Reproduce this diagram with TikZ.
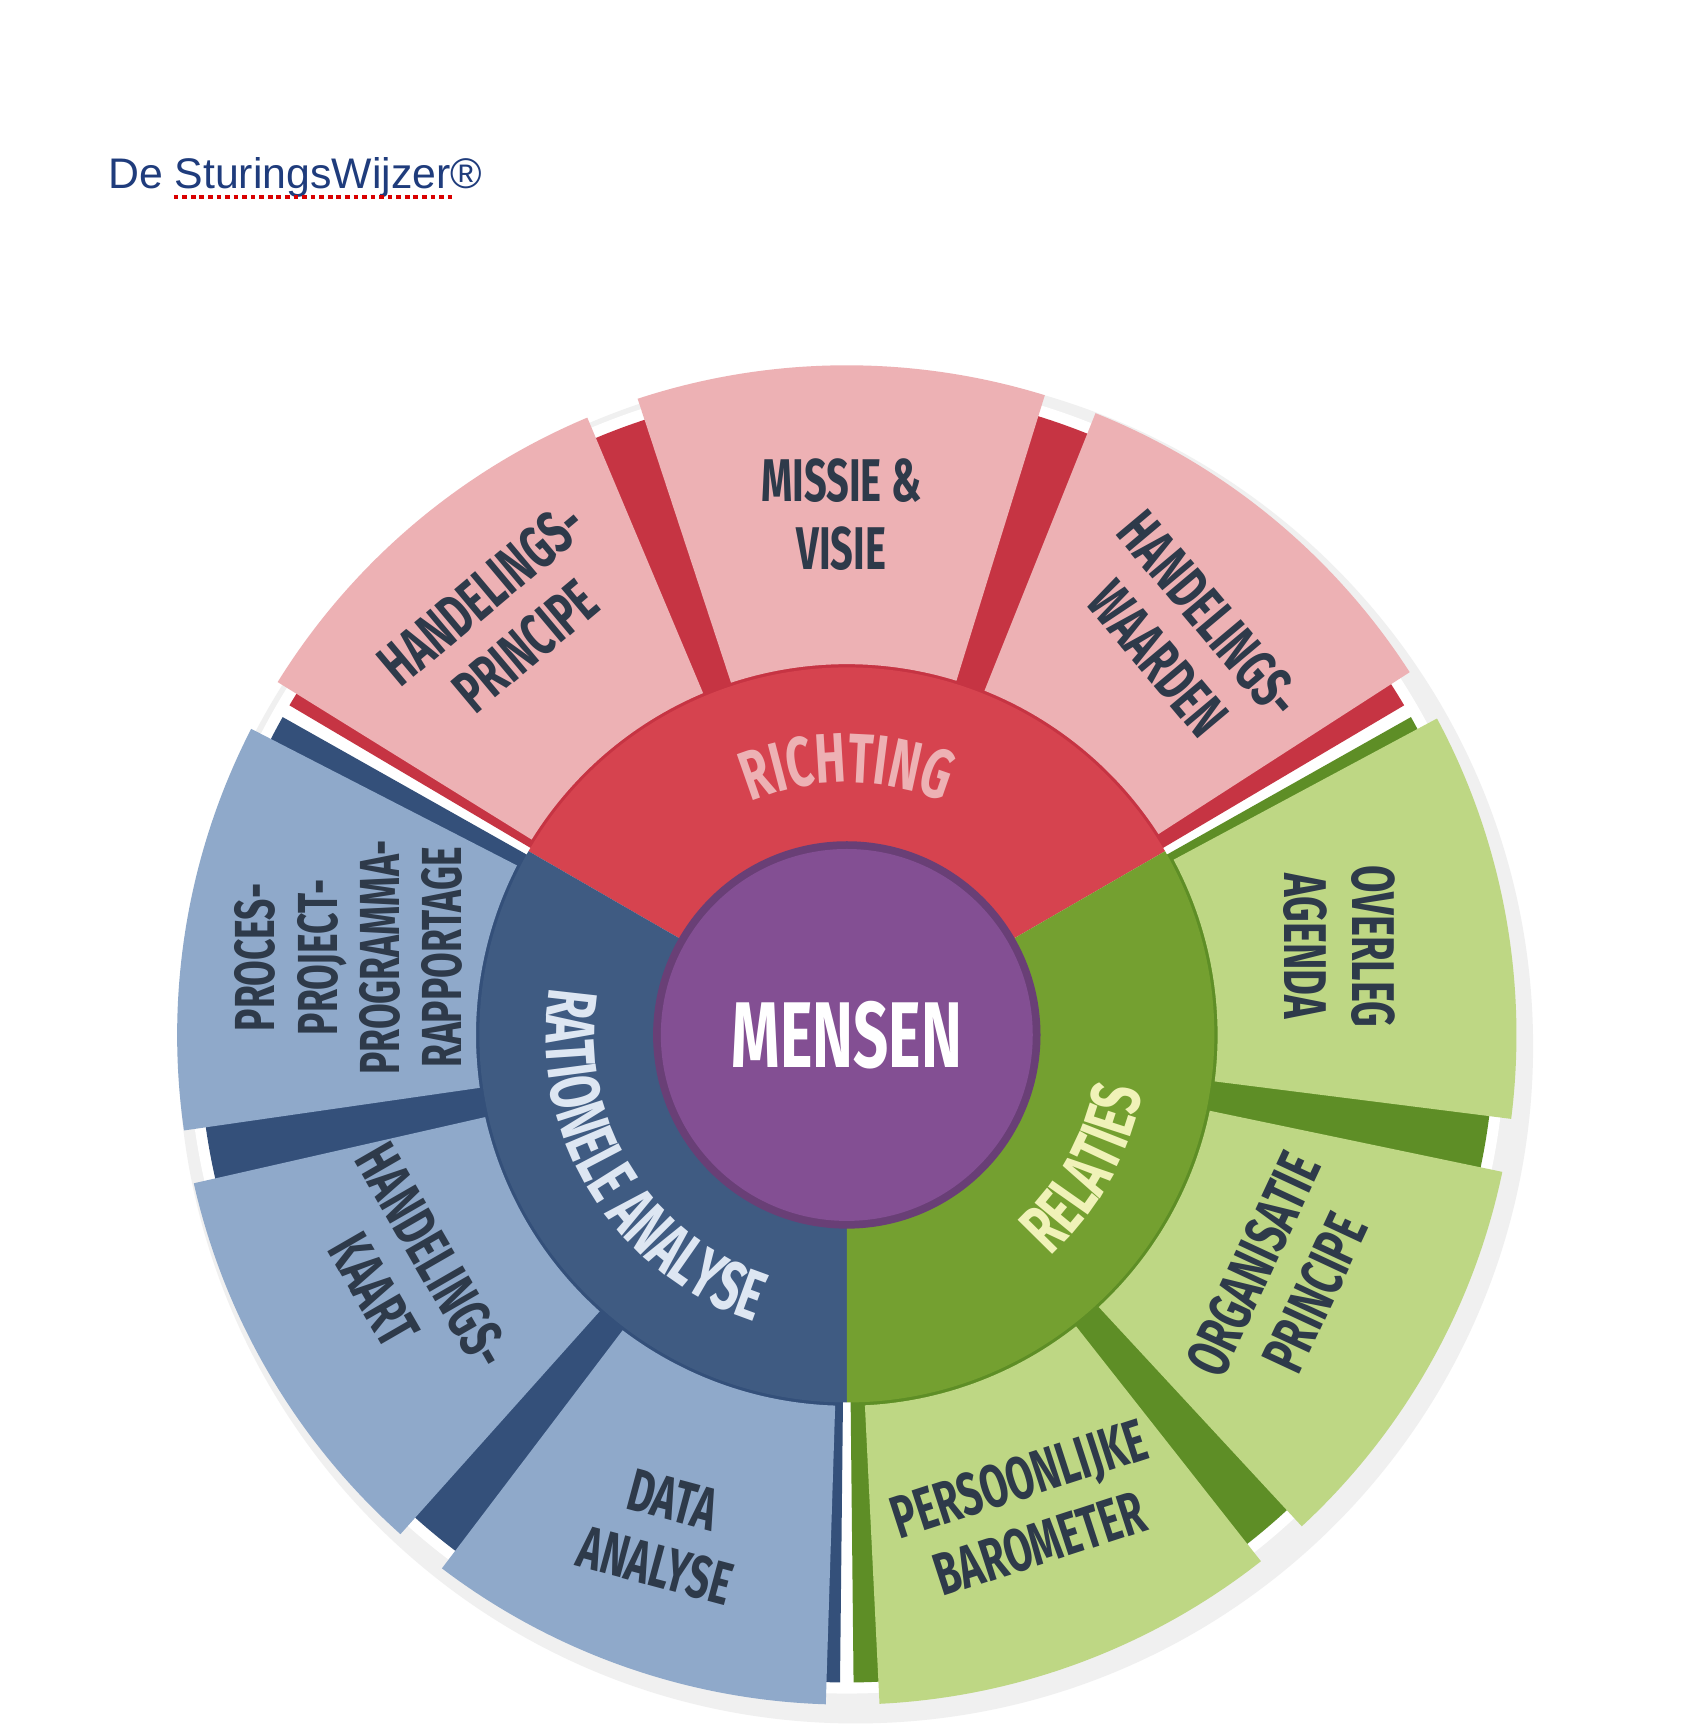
\documentclass[tikz,border=0pt]{standalone}
\usepackage{fontspec}
\setmainfont{Liberation Sans}
\newfontfamily\cond{Fira Sans}[FakeStretch=0.66]
\usetikzlibrary{decorations.text}
\definecolor{pinkL}{HTML}{EDB1B4}
\definecolor{redM}{HTML}{D6434F}
\definecolor{redD}{HTML}{C63443}
\definecolor{blueL}{HTML}{8FA9CA}
\definecolor{blueM}{HTML}{3F5B82}
\definecolor{blueD}{HTML}{34507A}
\definecolor{greenL}{HTML}{BED784}
\definecolor{greenM}{HTML}{74A030}
\definecolor{greenD}{HTML}{5E8E26}
\definecolor{purp}{HTML}{834F93}
\definecolor{txt}{HTML}{2E3A4A}
\definecolor{ttl}{HTML}{1F3C7C}
\definecolor{relT}{HTML}{F0F2B8}
\definecolor{ratT}{HTML}{DDE6F2}
\newcommand{\annsec}[5]{\fill[#5] (#1:#3) arc[start angle=#1,end angle=#2,radius=#3] -- (#2:#4) arc[start angle=#2,end angle=#1,radius=#4] -- cycle;}
\tikzset{
 lab/.style={font=\cond\bfseries\fontsize{15.5}{17.5}\selectfont, text=txt, align=center, inner sep=0pt},
}
\begin{document}
\begin{tikzpicture}
\useasboundingbox (0,0) rectangle (15.3,15.62);
\fill[white] (0,0) rectangle (15.3,15.62);
\node[anchor=west, text=ttl, font=\fontsize{11}{13}\selectfont, inner sep=0pt] (title) at (0.97,14.02) {De SturingsWijzer®};
\draw[red!85!black, densely dotted, line width=1.2pt] (1.57,13.84) -- (4.1,13.84);
\begin{scope}[shift={(7.65,6.27)}]
% shadow
\fill[black!6] (0.08,-0.1) circle (6.12);
\fill[white] (0,0) circle (5.95);
% dark backgrounds
\annsec{30.6}{149.4}{3.2}{5.85}{redD}
\annsec{150.6}{269.4}{3.2}{5.85}{blueD}
\annsec{270.6}{389.4}{3.2}{5.85}{greenD}
% light segments
\foreach \a in {30,70,110}{ \annsec{\a+2.8}{\a+38.2}{3.35}{6.05}{pinkL} }
\foreach \a in {150,190,230}{ \annsec{\a+2.8}{\a+38.2}{3.35}{6.05}{blueL} }
\foreach \a in {270,310,350}{ \annsec{\a+2.8}{\a+38.2}{3.35}{6.05}{greenL} }
% middle ring
\annsec{30}{150}{1.6}{3.32}{redM}
\annsec{150}{270}{1.6}{3.32}{blueM}
\annsec{270}{390}{1.6}{3.32}{greenM}
\fill[purp!80!black] (0,0) circle (1.75);
\fill[purp] (0,0) circle (1.68);
\node[font=\cond\bfseries\fontsize{24}{26}\selectfont, text=white] (mensen) at (0,0) {MENSEN};
% ring texts
\path[decorate, decoration={text along path, text align=center,
  text={|\cond\bfseries\fontsize{18}{20}\selectfont\color{pinkL}|RICHTING}}]
  (120:2.28) arc[start angle=120,end angle=60,radius=2.28];
\path[decorate, decoration={text along path, text align=center,
  text={|\cond\bfseries\fontsize{18}{20}\selectfont\color{ratT}|RATIONELE ANALYSE}}]
  (158:2.72) arc[start angle=158,end angle=265,radius=2.72];
\path[decorate, decoration={text along path, text align=center,
  text={|\cond\bfseries\fontsize{18}{20}\selectfont\color{relT}|RELATIES}}]
  (-62:2.72) arc[start angle=-62,end angle=4,radius=2.72];
% segment labels
\node[lab] (missie) at (-0.05,4.7) {MISSIE \&\\VISIE};
\node[lab, rotate=40] (hprinc) at (-3.1,3.75) {HANDELINGS-\\PRINCIPE};
\node[lab, rotate=-50] (hwaard) at (3.05,3.6) {HANDELINGS-\\WAARDEN};
\node[lab, rotate=90, font=\cond\bfseries\fontsize{14.5}{16}\selectfont] (proces) at (-4.5,0.7) {PROCES-\\PROJECT-\\PROGRAMMA-\\RAPPORTAGE};
\node[lab, rotate=-60] (hkaart) at (-4.0,-2.15) {HANDELINGS-\\KAART};
\node[lab, rotate=-15] (data) at (-1.65,-4.5) {DATA\\ANALYSE};
\node[lab, rotate=-90] (overleg) at (4.45,0.8) {OVERLEG\\AGENDA};
\node[lab, rotate=65] (organ) at (3.95,-2.2) {ORGANISATIE\\PRINCIPE};
\node[lab, rotate=18] (pers) at (1.65,-4.3) {PERSOONLIJKE\\BAROMETER};
\end{scope}
\end{tikzpicture}
\end{document}
